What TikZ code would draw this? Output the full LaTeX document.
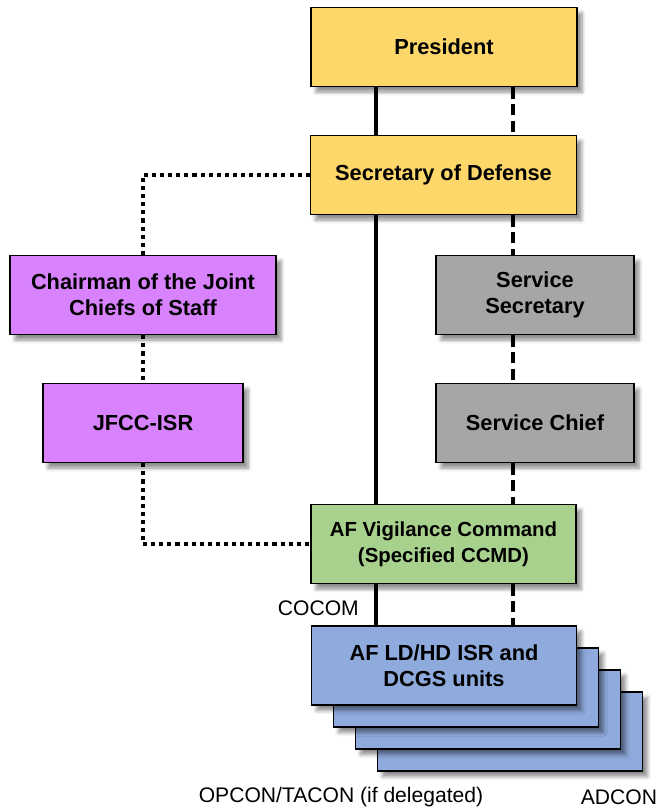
\documentclass[tikz,border=0pt]{standalone}
\usepackage{fontspec}
\setmainfont{Liberation Sans}
\usepackage{xcolor}
\usepackage{tikz}
\usetikzlibrary{shadows.blur,positioning}

\definecolor{presyellow}{HTML}{FDD76A}
\definecolor{jointpurple}{HTML}{D883FD}
\definecolor{servgray}{HTML}{A6A6A6}
\definecolor{ccmdgreen}{HTML}{A9D18E}
\definecolor{unitblue}{HTML}{8FAADC}

\begin{document}
\begin{tikzpicture}[
    orgbox/.style={draw=black,line width=0.9pt,minimum height=1.58cm,align=center,
        font=\fontsize{12.4}{14.6}\selectfont\bfseries,
        blur shadow={shadow xshift=0.1cm,shadow yshift=-0.11cm,shadow blur steps=6,shadow opacity=45}},
    cmdline/.style={line width=2.2pt},
    admline/.style={line width=2.2pt,dash pattern=on 6.5pt off 3pt},
    coordline/.style={line width=2.2pt,dash pattern=on 2.3pt off 2.3pt},
    lbl/.style={font=\fontsize{12}{14.6}\selectfont}
]
    \useasboundingbox (0,0) rectangle (13.26,-16.24);

    % Chain of command
    \node[orgbox,fill=presyellow,minimum width=5.32cm] (pres) at (8.88,-0.94) {President};
    \node[orgbox,fill=presyellow,minimum width=5.32cm] (secdef) at (8.87,-3.5) {Secretary of Defense};

    % Joint side
    \node[orgbox,fill=jointpurple,minimum width=5.32cm] (cjcs) at (2.86,-5.9) {Chairman of the Joint\\Chiefs of Staff};
    \node[orgbox,fill=jointpurple,minimum width=4.0cm] (jfcc) at (2.86,-8.46) {JFCC-ISR};

    % Service side
    \node[orgbox,fill=servgray,minimum width=3.96cm] (svcsec) at (10.7,-5.9) {Service\\Secretary};
    \node[orgbox,fill=servgray,minimum width=3.96cm] (svcchief) at (10.7,-8.46) {Service Chief};

    % Command and units
    \node[orgbox,fill=ccmdgreen,minimum width=5.3cm,font=\fontsize{11.6}{14.6}\selectfont\bfseries] (afvc) at (8.87,-10.88) {AF Vigilance Command\\(Specified CCMD)};
    \node[orgbox,fill=unitblue,minimum width=5.3cm] (units3) at (10.2,-14.63) {};
    \node[orgbox,fill=unitblue,minimum width=5.3cm] (units2) at (9.76,-14.19) {};
    \node[orgbox,fill=unitblue,minimum width=5.3cm] (units1) at (9.32,-13.75) {};
    \node[orgbox,fill=unitblue,minimum width=5.3cm] (units) at (8.88,-13.31) {AF LD/HD ISR and\\DCGS units};

    % Line positions
    \coordinate (cmd) at (7.52,0);
    \coordinate (adm) at (10.26,0);

    % COCOM / OPCON
    \draw[cmdline] (pres.south -| cmd) -- (secdef.north -| cmd);
    \draw[cmdline] (secdef.south -| cmd) -- (afvc.north -| cmd);
    \draw[cmdline] (afvc.south -| cmd) -- (units.north -| cmd);

    % ADCON
    \draw[admline] (pres.south -| adm) -- (secdef.north -| adm);
    \draw[admline] (secdef.south -| adm) -- (svcsec.north -| adm);
    \draw[admline] (svcsec.south -| adm) -- (svcchief.north -| adm);
    \draw[admline] (svcchief.south -| adm) -- (afvc.north -| adm);
    \draw[admline] (afvc.south -| adm) -- (units.north -| adm);

    % Coordination
    \draw[coordline] (secdef.west) -| (cjcs.north);
    \draw[coordline] (cjcs.south) -- (jfcc.north);
    \draw[coordline] (jfcc.south) |- (afvc.west);

    % Labels
    \node[lbl,anchor=east] (cocom) at (7.3,-12.16) {COCOM};
    \node[lbl] (opcon) at (6.82,-15.94) {OPCON/TACON (if delegated)};
    \node[lbl] (adcon) at (12.38,-15.94) {ADCON};
\end{tikzpicture}
\end{document}
